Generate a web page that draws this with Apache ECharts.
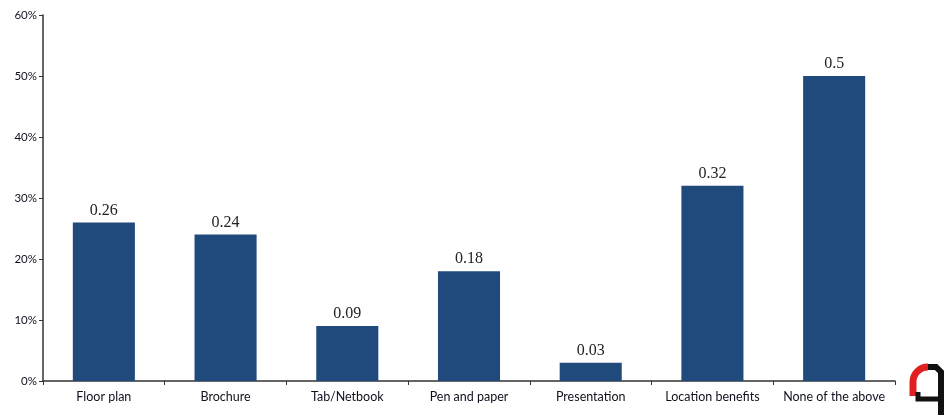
<!DOCTYPE html>
<html><head><meta charset="utf-8">
<script src="https://cdn.jsdelivr.net/npm/echarts@6/dist/echarts.min.js"></script>
<style>html,body{margin:0;padding:0;background:#fff}#c{width:950px;height:415px}</style>
</head><body><div id="c"></div>
<script>
const categories = ["Floor plan","Brochure","Tab/Netbook","Pen and paper","Presentation","Location benefits","None of the above"];
const values = [0.26,0.24,0.09,0.18,0.03,0.32,0.5];
const yTicks = [0,0.1,0.2,0.3,0.4,0.5,0.6];

const chart = echarts.init(document.getElementById('c'), null, {renderer:'canvas'});
chart.setOption({
  animation:false,
  backgroundColor:'#fff',
  grid:{left:43,right:55,top:15,bottom:34,containLabel:false},
  xAxis:{
    type:'category', data:categories,
    axisLine:{lineStyle:{color:'#333',width:1.5}},
    axisTick:{show:true,interval:0,alignWithLabel:false,length:4,inside:false,lineStyle:{color:'#333'}},
    axisLabel:{interval:0,color:'#101020',fontFamily:'Lato',fontSize:12.5,margin:9}
  },
  yAxis:{
    type:'value', min:yTicks[0], max:yTicks[yTicks.length-1], interval:0.1,
    axisLine:{show:true,lineStyle:{color:'#333',width:1.5}},
    axisTick:{show:true,length:4,lineStyle:{color:'#333'}},
    splitLine:{show:false},
    axisLabel:{color:'#101020',fontFamily:'Lato',fontSize:11.5,margin:6,
      formatter:v=>Math.round(v*100)+'%'}
  },
  series:[{
    type:'bar', data:values, barWidth:'51%',
    itemStyle:{color:'#214a7c'},
    label:{show:true,position:'top',distance:4,color:'#222',
      fontFamily:'Liberation Serif',fontSize:16,
      formatter:p=>String(p.value)}
  }],
  graphic:[
    {type:'arc',shape:{cx:928,cy:382,r:15,startAngle:Math.PI,endAngle:Math.PI*1.5},
     style:{fill:'none',stroke:'#e02020',lineWidth:7}},
    {type:'polyline',shape:{points:[[913,382],[913,396]]},
     style:{fill:'none',stroke:'#e02020',lineWidth:7}},
    {type:'polyline',shape:{points:[[928,367],[936,367],[941,372],[941,415]]},
     style:{fill:'none',stroke:'#111',lineWidth:6}},
    {type:'polyline',shape:{points:[[918,392],[918,399],[938,399]]},
     style:{fill:'none',stroke:'#111',lineWidth:5}}
  ]
});
</script></body></html>
